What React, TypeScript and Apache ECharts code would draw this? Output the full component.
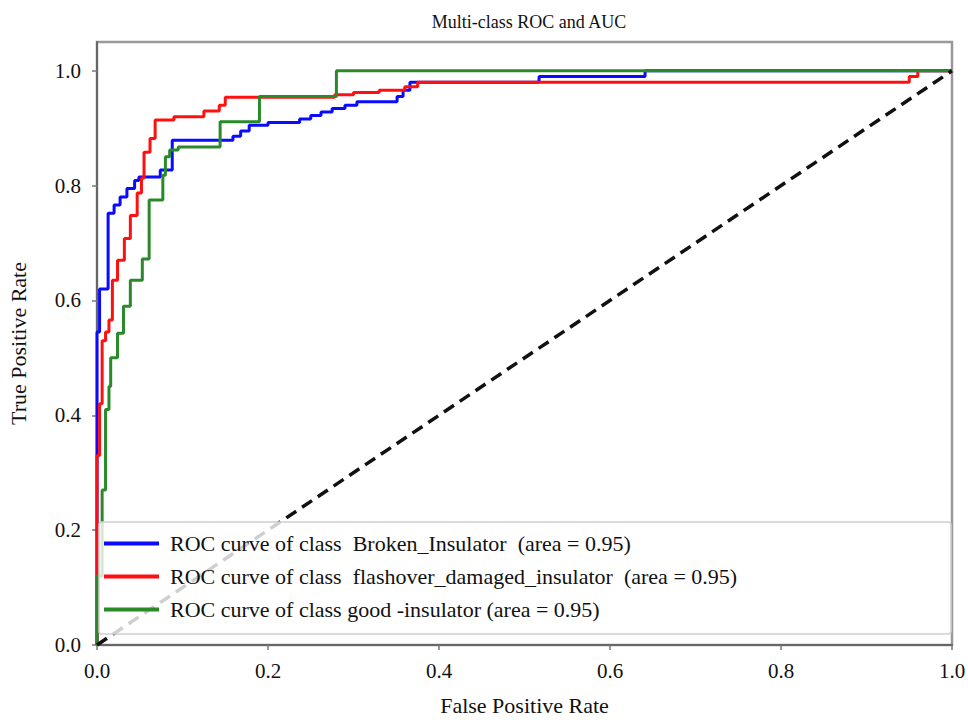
import React, { useEffect, useRef } from "react";
import * as echarts from "echarts";

const classNames = [
  "ROC curve of class  Broken_Insulator  (area = 0.95)",
  "ROC curve of class  flashover_damaged_insulator  (area = 0.95)",
  "ROC curve of class good -insulator (area = 0.95)",
];
const classColors = ["#0a0aff", "#ff1010", "#2a8a2a"];

const brokenFpr = [0, 0, 0.003, 0.003, 0.013, 0.013, 0.02, 0.02, 0.027, 0.027, 0.035, 0.035, 0.044, 0.044, 0.049, 0.049, 0.074, 0.074, 0.088, 0.088, 0.159, 0.159, 0.168, 0.168, 0.178, 0.178, 0.2, 0.2, 0.237, 0.237, 0.25, 0.25, 0.262, 0.262, 0.275, 0.275, 0.29, 0.29, 0.304, 0.304, 0.351, 0.351, 0.358, 0.358, 0.366, 0.366, 0.517, 0.517, 0.641, 0.641, 1];
const brokenTpr = [0, 0.545, 0.545, 0.62, 0.62, 0.752, 0.752, 0.766, 0.766, 0.78, 0.78, 0.795, 0.795, 0.809, 0.809, 0.815, 0.815, 0.827, 0.827, 0.879, 0.879, 0.886, 0.886, 0.895, 0.895, 0.905, 0.905, 0.91, 0.91, 0.916, 0.916, 0.922, 0.922, 0.928, 0.928, 0.934, 0.934, 0.94, 0.94, 0.946, 0.946, 0.955, 0.955, 0.966, 0.966, 0.98, 0.98, 0.99, 0.99, 1, 1];

const flashFpr = [0, 0, 0.003, 0.003, 0.006, 0.006, 0.01, 0.01, 0.014, 0.014, 0.018, 0.018, 0.024, 0.024, 0.032, 0.032, 0.039, 0.039, 0.047, 0.047, 0.052, 0.052, 0.055, 0.055, 0.062, 0.062, 0.068, 0.068, 0.09, 0.09, 0.125, 0.125, 0.143, 0.143, 0.15, 0.15, 0.278, 0.278, 0.3, 0.3, 0.33, 0.33, 0.36, 0.36, 0.375, 0.375, 0.95, 0.95, 0.96, 0.96, 1];
const flashTpr = [0, 0.33, 0.33, 0.42, 0.42, 0.53, 0.53, 0.545, 0.545, 0.566, 0.566, 0.635, 0.635, 0.67, 0.67, 0.708, 0.708, 0.748, 0.748, 0.787, 0.787, 0.813, 0.813, 0.858, 0.858, 0.882, 0.882, 0.914, 0.914, 0.92, 0.92, 0.93, 0.93, 0.94, 0.94, 0.954, 0.954, 0.958, 0.958, 0.962, 0.962, 0.966, 0.966, 0.972, 0.972, 0.98, 0.98, 0.99, 0.99, 1, 1];

const goodFpr = [0, 0, 0.006, 0.006, 0.01, 0.01, 0.014, 0.014, 0.016, 0.016, 0.024, 0.024, 0.031, 0.031, 0.039, 0.039, 0.053, 0.053, 0.061, 0.061, 0.077, 0.077, 0.08, 0.08, 0.085, 0.085, 0.095, 0.095, 0.144, 0.144, 0.19, 0.19, 0.28, 0.28, 1];
const goodTpr = [0, 0.12, 0.12, 0.27, 0.27, 0.41, 0.41, 0.45, 0.45, 0.5, 0.5, 0.543, 0.543, 0.59, 0.59, 0.635, 0.635, 0.672, 0.672, 0.775, 0.775, 0.818, 0.818, 0.85, 0.85, 0.862, 0.862, 0.867, 0.867, 0.911, 0.911, 0.955, 0.955, 1, 1];

const chanceFpr = [0, 1];
const chanceTpr = [0, 1];

const tickValues = [0, 0.2, 0.4, 0.6, 0.8, 1.0];

const zip = (xs: number[], ys: number[]) => xs.map((x, i) => [x, ys[i]]);

const FONT = "Liberation Serif";

export default function App() {
  const ref = useRef<HTMLDivElement>(null);
  useEffect(() => {
    if (!ref.current) return;
    const chart = echarts.init(ref.current, null, { renderer: "svg" });
    const curves = [
      zip(brokenFpr, brokenTpr),
      zip(flashFpr, flashTpr),
      zip(goodFpr, goodTpr),
    ];
    const series: any[] = curves.map((d, i) => ({
      name: classNames[i],
      type: "line",
      data: d,
      showSymbol: false,
      symbol: "none",
      lineStyle: { color: classColors[i], width: 3 },
      itemStyle: { color: classColors[i] },
      z: 2,
    }));
    series.push({
      name: "chance",
      type: "line",
      data: zip(chanceFpr, chanceTpr),
      showSymbol: false,
      symbol: "none",
      lineStyle: { color: "#111", width: 3.5, type: [12, 7] },
      z: 3,
    });
    chart.setOption({
      animation: false,
      backgroundColor: "#fff",
      textStyle: { fontFamily: FONT },
      title: {
        text: "Multi-class ROC and AUC",
        left: 524,
        textAlign: "center",
        top: 8,
        textStyle: { fontFamily: FONT, fontSize: 18, fontWeight: "normal", color: "#111" },
      },
      grid: {
        left: 97,
        right: 16,
        top: 42,
        bottom: 75,
        containLabel: false,
        outerBoundsMode: "none",
        show: true,
        borderColor: "#999",
        borderWidth: 2.5,
        backgroundColor: "transparent",
      },
      xAxis: {
        type: "value",
        min: 0,
        max: 1,
        interval: 0.2,
        name: "False Positive Rate",
        nameLocation: "middle",
        nameGap: 49,
        nameTextStyle: { fontFamily: FONT, fontSize: 22, color: "#111" },
        axisLine: { show: true, lineStyle: { color: "#666", width: 2 } },
        axisTick: { show: true, length: 5, lineStyle: { color: "#777", width: 1.5 } },
        splitLine: { show: false },
        axisLabel: {
          margin: 15,
          fontFamily: FONT,
          fontSize: 21,
          color: "#111",
          formatter: (v: number) => v.toFixed(1),
        },
      },
      yAxis: {
        type: "value",
        min: 0,
        max: 1.05,
        name: "True Positive Rate",
        nameLocation: "middle",
        nameGap: 68,
        nameTextStyle: { fontFamily: FONT, fontSize: 22, color: "#111" },
        axisLine: { show: true, lineStyle: { color: "#666", width: 2 } },
        axisTick: { show: true, length: 5, customValues: tickValues, lineStyle: { color: "#777", width: 1.5 } },
        splitLine: { show: false },
        axisLabel: {
          margin: 16,
          fontFamily: FONT,
          fontSize: 21,
          color: "#111",
          customValues: tickValues,
          formatter: (v: number) => v.toFixed(1),
        },
      },
      legend: {
        data: classNames.map((n) => ({ name: n, icon: "rect" })),
        orient: "vertical",
        left: 104,
        top: 531,
        itemWidth: 55,
        itemHeight: 4,
        itemGap: 8,
        padding: 0,
        textStyle: { fontFamily: FONT, fontSize: 22, color: "#111", lineHeight: 25, padding: [0, 0, 0, 6] },
        z: 6,
      },
      graphic: [
        {
          type: "rect",
          shape: { x: 99, y: 522, width: 852, height: 112, r: 3 },
          style: { fill: "rgba(255,255,255,0.8)", stroke: "#d0d0d0", lineWidth: 1.5 },
          z: 5,
        },
      ],
      series,
    });
    return () => chart.dispose();
  }, []);
  return (
    <div
      ref={ref}
      style={{ position: "fixed", left: 0, top: 0, width: 968, height: 720 }}
    />
  );
}
